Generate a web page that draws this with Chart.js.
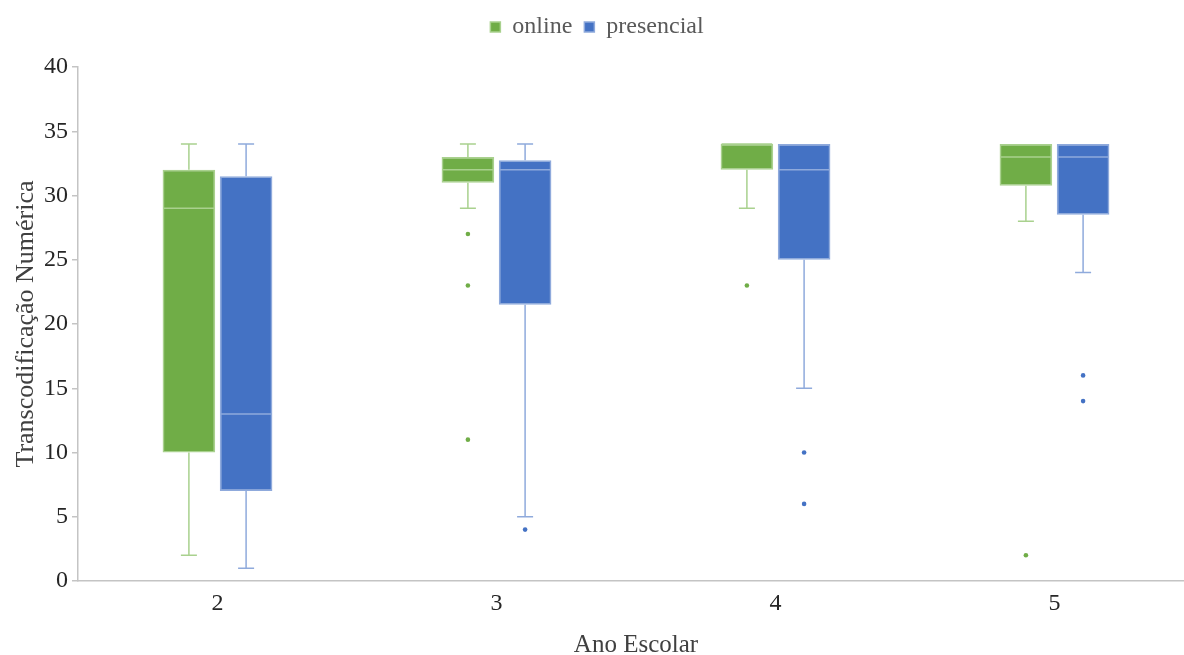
<!DOCTYPE html>
<html>
<head>
<meta charset="utf-8">
<script src="https://cdn.jsdelivr.net/npm/chart.js@4.4.1/dist/chart.umd.min.js"></script>
<style>
  html, body { margin: 0; padding: 0; background: #ffffff; overflow: hidden; }
  #wrap { width: 1200px; height: 655px; }
</style>
</head>
<body>
<div id="wrap"><canvas id="c" width="1200" height="655"></canvas></div>
<script>
const categories = ['2', '3', '4', '5'];
const seriesNames = ['online', 'presencial'];

const onlineMin = [2, 29, 29, 28];
const onlineQ1 = [10, 31, 32, 30.75];
const onlineMedian = [29, 32, 34, 33];
const onlineQ3 = [32, 33, 34, 34];
const onlineMax = [34, 34, 34, 34];
const onlineOutliers = [[], [27, 23, 11], [23], [2]];

const presMin = [1, 5, 15, 24];
const presQ1 = [7, 21.5, 25, 28.5];
const presMedian = [13, 32, 32, 33];
const presQ3 = [31.5, 32.75, 34, 34];
const presMax = [34, 34, 34, 34];
const presOutliers = [[], [4], [10, 6], [16, 14]];

const yTicks = [0, 5, 10, 15, 20, 25, 30, 35, 40];

const stats = [
  { min: onlineMin, q1: onlineQ1, med: onlineMedian, q3: onlineQ3, max: onlineMax, out: onlineOutliers,
    fill: '#70ad47', light: '#a9d18e' },
  { min: presMin, q1: presQ1, med: presMedian, q3: presQ3, max: presMax, out: presOutliers,
    fill: '#4472c4', light: '#8faadc' }
];

const boxplotPlugin = {
  id: 'boxplot',
  afterInit(chart) {
    const lg = chart.legend;
    if (lg) {
      const origFit = lg.fit;
      lg.fit = function () { origFit.call(this); this.height += 18; };
    }
  },
  afterDatasetsDraw(chart) {
    const ctx = chart.ctx;
    const ys = chart.scales.y;
    stats.forEach((st, di) => {
      const meta = chart.getDatasetMeta(di);
      meta.data.forEach((bar, i) => {
        const x = bar.x;
        const w = bar.width;
        const pMin = ys.getPixelForValue(st.min[i]);
        const pQ1 = ys.getPixelForValue(st.q1[i]);
        const pMed = ys.getPixelForValue(st.med[i]);
        const pQ3 = ys.getPixelForValue(st.q3[i]);
        const pMax = ys.getPixelForValue(st.max[i]);
        const cap = 8;
        ctx.save();
        ctx.strokeStyle = st.light;
        ctx.lineWidth = 1.5;
        ctx.beginPath();
        if (st.max[i] > st.q3[i]) {
          ctx.moveTo(x, pQ3); ctx.lineTo(x, pMax);
          ctx.moveTo(x - cap, pMax); ctx.lineTo(x + cap, pMax);
        }
        if (st.min[i] < st.q1[i]) {
          ctx.moveTo(x, pQ1); ctx.lineTo(x, pMin);
          ctx.moveTo(x - cap, pMin); ctx.lineTo(x + cap, pMin);
        }
        ctx.moveTo(x - w / 2 + 1, pMed); ctx.lineTo(x + w / 2 - 1, pMed);
        ctx.stroke();
        ctx.fillStyle = st.fill;
        st.out[i].forEach(v => {
          ctx.beginPath();
          ctx.arc(x, ys.getPixelForValue(v), 2.3, 0, Math.PI * 2);
          ctx.fill();
        });
        ctx.restore();
      });
    });
  }
};

const FONT = "'Liberation Serif', 'Times New Roman', serif";

new Chart(document.getElementById('c'), {
  type: 'bar',
  data: {
    labels: categories,
    datasets: stats.map((st, di) => ({
      label: seriesNames[di],
      data: st.q1.map((v, i) => [v, st.q3[i]]),
      backgroundColor: st.fill,
      borderColor: st.light,
      borderWidth: 1.5,
      borderSkipped: false,
      categoryPercentage: 0.41,
      barPercentage: 0.92
    }))
  },
  options: {
    responsive: false,
    animation: false,
    layout: { padding: { left: 0, right: 6, top: 3, bottom: 0 } },
    plugins: {
      tooltip: { enabled: false },
      legend: {
        position: 'top',
        align: 'center',
        labels: {
          boxWidth: 10,
          boxHeight: 10,
          padding: 12,
          color: '#595959',
          font: { family: FONT, size: 24 }
        }
      }
    },
    scales: {
      x: {
        grid: { display: false, drawTicks: false },
        border: { display: true, color: '#c4c4c4', width: 1.5 },
        ticks: { color: '#262626', font: { family: FONT, size: 24 }, padding: 8 },
        title: { display: true, text: 'Ano Escolar', color: '#404040', font: { family: FONT, size: 25 }, padding: { top: 9, bottom: -5 } },
        afterFit(scale) { scale.height = 74; }
      },
      y: {
        min: 0, max: 40,
        afterBuildTicks(scale) { scale.ticks = yTicks.map(v => ({ value: v })); },
        grid: { display: true, drawOnChartArea: false, drawTicks: true, tickLength: 6, color: '#c4c4c4', lineWidth: 1.5 },
        border: { display: true, color: '#c4c4c4', width: 1.5 },
        ticks: { color: '#262626', font: { family: FONT, size: 24 }, padding: 4 },
        title: { display: true, text: 'Transcodificação Numérica', color: '#404040', font: { family: FONT, size: 26 }, padding: { top: 11, bottom: 0 } },
        afterFit(scale) { scale.width = 78; }
      }
    }
  },
  plugins: [boxplotPlugin]
});
</script>
</body>
</html>
